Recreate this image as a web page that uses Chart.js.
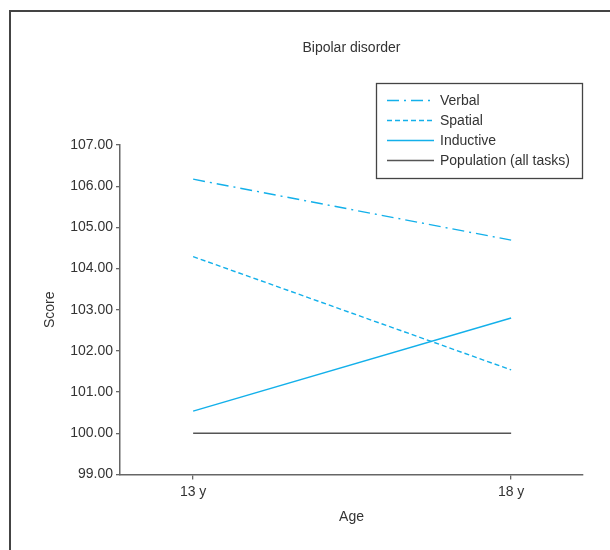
<!DOCTYPE html>
<html lang="en">
<head>
<meta charset="UTF-8">
<title>Bipolar disorder</title>
<script src="https://cdn.jsdelivr.net/npm/chart.js@4"></script>
<style>
  html, body { margin: 0; padding: 0; background: #fff; overflow: hidden; }
  .wrap { position: relative; width: 610px; height: 550px; }
  .frame {
    position: absolute; left: 9px; top: 10px; width: 700px; height: 700px;
    border-left: 2px solid #444; border-top: 2px solid #444;
  }
  canvas { position: absolute; left: 0; top: 0; }
</style>
</head>
<body>
<div class="wrap">
  <div class="frame"></div>
  <canvas id="chart"></canvas>
</div>
<script>
// data
const ages = [13, 18];
const ageLabels = ['13 y', '18 y'];
const verbal = [106.17, 104.69];
const spatial = [104.29, 101.54];
const inductive = [100.54, 102.80];
const population = [100.00, 100.00];
const yTicks = [99, 100, 101, 102, 103, 104, 105, 106, 107];

const CYAN = '#13b0ea';
const GREY = '#555555';
const FONT = "'Liberation Sans', Arial, sans-serif";
const font = { family: FONT, size: 14 };

function pts(vals) {
  return ages.map((a, i) => ({ x: a, y: vals[i] }));
}

// legend drawn as a boxed key, like the original figure
const boxLegend = {
  id: 'boxLegend',
  afterDraw(chart) {
    const ctx = chart.ctx;
    ctx.save();
    ctx.fillStyle = '#fff';
    ctx.fillRect(376, 83, 206, 95);
    ctx.strokeStyle = '#444';
    ctx.lineWidth = 1.3;
    ctx.strokeRect(376.5, 83.5, 206, 95);
    chart.data.datasets.forEach((ds, i) => {
      const y = 100.5 + i * 20;
      ctx.beginPath();
      ctx.setLineDash(ds.borderDash || []);
      ctx.strokeStyle = ds.borderColor;
      ctx.lineWidth = ds.borderWidth;
      ctx.moveTo(387, y);
      ctx.lineTo(434, y);
      ctx.stroke();
      ctx.setLineDash([]);
      ctx.fillStyle = '#333';
      ctx.font = `${font.size}px ${FONT}`;
      ctx.textBaseline = 'middle';
      ctx.fillText(ds.label, 440, y + 1);
    });
    ctx.restore();
  }
};

new Chart(document.getElementById('chart'), {
  type: 'line',
  data: {
    datasets: [
      { label: 'Verbal', data: pts(verbal), borderColor: CYAN, borderWidth: 1.4, borderDash: [12, 5, 2, 5] },
      { label: 'Spatial', data: pts(spatial), borderColor: CYAN, borderWidth: 1.4, borderDash: [5, 3] },
      { label: 'Inductive', data: pts(inductive), borderColor: CYAN, borderWidth: 1.4 },
      { label: 'Population (all tasks)', data: pts(population), borderColor: GREY, borderWidth: 1.6 }
    ]
  },
  options: {
    responsive: true,
    maintainAspectRatio: false,
    animation: false,
    elements: { point: { radius: 0 }, line: { tension: 0 } },
    layout: { padding: { top: 0, right: 27, bottom: 0, left: 0 } },
    plugins: {
      legend: { display: false },
      tooltip: { enabled: false },
      title: {
        display: true,
        text: 'Bipolar disorder',
        color: '#333',
        font: { family: FONT, size: 14, weight: 'normal' },
        fullSize: false,
        padding: { top: 39.6, bottom: 88.6 }
      }
    },
    scales: {
      x: {
        type: 'linear',
        min: 11.85,
        max: 19.13,
        afterBuildTicks(scale) { scale.ticks = ages.map(v => ({ value: v })); },
        ticks: {
          color: '#333', font, padding: 4, maxRotation: 0, autoSkip: false,
          callback: v => ageLabels[ages.indexOf(v)]
        },
        grid: { drawOnChartArea: false, drawTicks: true, tickLength: 5, color: '#666', lineWidth: 1.3 },
        border: { color: '#666', width: 1.5 },
        title: { display: true, text: 'Age', color: '#333', font, padding: { top: 0, bottom: 24.6 } },
        afterFit(scale) { scale.height = 75.5; }
      },
      y: {
        min: 99,
        max: 107,
        afterBuildTicks(scale) { scale.ticks = yTicks.map(v => ({ value: v })); },
        ticks: { color: '#333', font, padding: 3, callback: v => v.toFixed(2) },
        grid: { drawOnChartArea: false, drawTicks: true, tickLength: 4, color: '#666', lineWidth: 1.3 },
        border: { color: '#666', width: 1.5 },
        title: { display: true, text: 'Score', color: '#333', font, padding: { top: 41.6, bottom: 0 } },
        afterFit(scale) { scale.width = 120; }
      }
    }
  },
  plugins: [boxLegend]
});
</script>
</body>
</html>
